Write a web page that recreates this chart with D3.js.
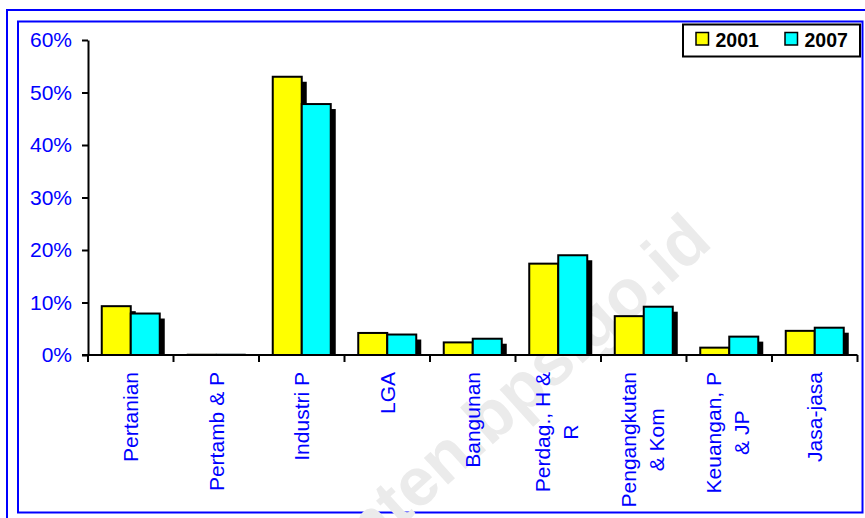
<!DOCTYPE html>
<html>
<head>
<meta charset="utf-8">
<script src="https://cdn.jsdelivr.net/npm/d3@7/dist/d3.min.js"></script>
<style>
  html, body { margin: 0; padding: 0; background: #fff; }
  svg { display: block; font-family: "Liberation Sans", Arial, sans-serif; }
</style>
</head>
<body>
<svg id="chart" width="865" height="518"></svg>
<script>
// Sector share of regional GDP, 2001 vs 2007
const categories = [
  ["Pertanian"],
  ["Pertamb & P"],
  ["Industri P"],
  ["LGA"],
  ["Bangunan"],
  ["Perdag., H &", "R"],
  ["Pengangkutan", "& Kom"],
  ["Keuangan, P", "& JP"],
  ["Jasa-jasa"]
];
const seriesNames = ["2001", "2007"];
const seriesColors = ["#ffff00", "#00ffff"];
const values2001 = [0.093, 0.002, 0.530, 0.042, 0.024, 0.174, 0.074, 0.014, 0.046];
const values2007 = [0.079, 0.002, 0.478, 0.039, 0.031, 0.190, 0.092, 0.035, 0.052];
const yTicks = [0, 0.1, 0.2, 0.3, 0.4, 0.5, 0.6];

const seriesValues = [values2001, values2007];
const svg = d3.select("#chart");
const blue = "#0000ff";

// frames
svg.append("rect").attr("x", 7).attr("y", 10).attr("width", 870).attr("height", 520)
  .attr("fill", "none").attr("stroke", blue).attr("stroke-width", 2);
svg.append("rect").attr("x", 18).attr("y", 21.5).attr("width", 844.5).attr("height", 491)
  .attr("fill", "none").attr("stroke", blue).attr("stroke-width", 2);

// watermark
svg.append("text")
  .attr("transform", "translate(714,245) rotate(-42)")
  .attr("text-anchor", "end")
  .attr("font-size", 68).attr("font-weight", "bold")
  .attr("fill", "#ebebeb")
  .text("banten.bps.go.id");

const keys = categories.map(c => c.join(" "));
const x = d3.scaleBand().domain(keys).range([88, 857.5]).padding(0);
const xs = d3.scaleBand().domain(seriesNames).range([0, x.bandwidth()])
  .paddingInner(0).paddingOuter(0.474);
const y = d3.scaleLinear().domain([0, 0.6]).range([355, 40]);

const rows = [];
keys.forEach((k, i) => seriesNames.forEach((s, j) =>
  rows.push({ key: k, series: s, j, v: seriesValues[j][i] })));

// shadows
const sh = 5;
svg.append("g").selectAll("rect").data(rows).join("rect")
  .attr("x", d => x(d.key) + xs(d.series) + sh)
  .attr("y", d => Math.min(y(d.v) + sh, y(0)))
  .attr("width", xs.bandwidth())
  .attr("height", d => Math.max(0, y(0) - y(d.v) - sh))
  .attr("fill", "#000");

// bars
svg.append("g").selectAll("rect").data(rows).join("rect")
  .attr("x", d => x(d.key) + xs(d.series))
  .attr("y", d => y(d.v))
  .attr("width", xs.bandwidth())
  .attr("height", d => y(0) - y(d.v))
  .attr("fill", d => seriesColors[d.j])
  .attr("stroke", d => d.v < 0.005 ? "#888" : "#000")
  .attr("stroke-width", d => d.v < 0.005 ? 1 : 2);

// y axis
const yAxis = svg.append("g").attr("transform", "translate(88,0)")
  .call(d3.axisLeft(y).tickValues(yTicks).tickFormat(d3.format(".0%"))
    .tickSize(6).tickSizeOuter(0).tickPadding(10));
yAxis.select(".domain").attr("stroke", "#000").attr("stroke-width", 2);
yAxis.selectAll(".tick line").attr("stroke", "#000").attr("stroke-width", 2);
yAxis.selectAll(".tick text").attr("fill", blue).attr("font-size", 21)
  .attr("font-family", "'Liberation Sans', Arial, sans-serif");

// x axis line and category boundary ticks
const xg = svg.append("g");
xg.append("line").attr("x1", 82).attr("x2", 857.5).attr("y1", y(0)).attr("y2", y(0))
  .attr("stroke", "#000").attr("stroke-width", 2);
const bounds = keys.map(k => x(k)).concat([x.range()[1]]);
xg.selectAll("line.tk").data(bounds).join("line").attr("class", "tk")
  .attr("x1", d => d).attr("x2", d => d).attr("y1", y(0)).attr("y2", y(0) + 7)
  .attr("stroke", "#000").attr("stroke-width", 2);

// rotated category labels
const labelTop = 372;
const lab = svg.append("g").selectAll("g").data(categories).join("g")
  .attr("transform", (d, i) => `translate(${x(keys[i]) + x.bandwidth() / 2},${labelTop}) rotate(-90)`);
lab.each(function (lines) {
  const g = d3.select(this);
  const offs = lines.length === 1 ? [0] : [-15.5, 12.5];
  const texts = lines.map((t, li) => g.append("text")
    .attr("font-size", 21).attr("fill", blue)
    .attr("y", offs[li]).attr("dy", "0.36em")
    .text(t));
  const maxLen = d3.max(texts, t => t.node().getComputedTextLength());
  texts.forEach(t => t.attr("text-anchor", "middle").attr("x", -maxLen / 2));
});

// legend
const leg = svg.append("g");
leg.append("rect").attr("x", 683).attr("y", 24.5).attr("width", 177).attr("height", 32)
  .attr("fill", "#fff").attr("stroke", "#000").attr("stroke-width", 2);
const legX = [696, 785];
seriesNames.forEach((s, j) => {
  leg.append("rect").attr("x", legX[j]).attr("y", 32.5).attr("width", 12.5).attr("height", 12.5)
    .attr("fill", seriesColors[j]).attr("stroke", "#000").attr("stroke-width", 1.5);
  leg.append("text").attr("x", legX[j] + 19.5).attr("y", 46.5)
    .attr("font-size", 19.5).attr("font-weight", "bold").attr("fill", "#000").text(s);
});
</script>
</body>
</html>
